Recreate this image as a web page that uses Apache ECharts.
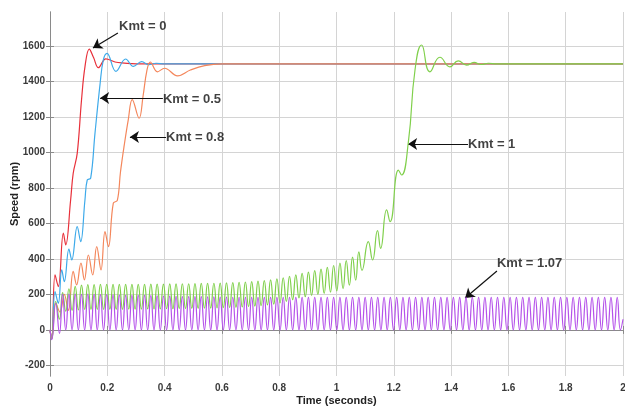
<!DOCTYPE html>
<html><head><meta charset="utf-8">
<script src="https://cdn.jsdelivr.net/npm/echarts@6/dist/echarts.min.js"></script>
<style>html,body{margin:0;padding:0;background:#fff}#c{width:625px;height:407px}</style>
</head><body><div id="c"></div>
<script>
const yTicks = [-200,0,200,400,600,800,1000,1200,1400,1600];
const xTicks = [0,0.2,0.4,0.6,0.8,1,1.2,1.4,1.6,1.8,2];

const kmt0 = [[0,0],[0.006,-50],[0.0175,310],[0.029,244],[0.0466,545],[0.055,479],[0.072,732],[0.081,883],[0.095,995],[0.11,1296],[0.122,1483],[0.137,1583],[0.152,1535],[0.169,1478],[0.195,1528],[0.227,1510],[0.26,1504],[0.3,1500],[2,1500]];

const kmt05 = [[0,0],[0.006,-50],[0.0175,216],[0.029,150],[0.041,338],[0.05,272],[0.066,455],[0.076,394],[0.095,582],[0.107,497],[0.122,732],[0.13,845],[0.142,855],[0.157,1108],[0.175,1390],[0.186,1521],[0.199,1559],[0.23,1457],[0.264,1527],[0.291,1485],[0.32,1512],[0.345,1495],[0.37,1503],[0.4,1500],[2,1500]];

const kmt08 = [[0,0],[0.006,-50],[0.02,150],[0.035,100],[0.05,200],[0.064,110],[0.081,330],[0.093,254],[0.108,376],[0.12,282],[0.134,422],[0.149,310],[0.163,469],[0.178,338],[0.192,554],[0.204,469],[0.221,714],[0.235,730],[0.246,890],[0.259,1040],[0.273,1183],[0.287,1298],[0.311,1193],[0.325,1320],[0.338,1460],[0.35,1510],[0.375,1455],[0.4,1475],[0.445,1432],[0.49,1465],[0.54,1490],[0.6,1500],[2,1500]];

const kmt1 = [[0,0],[0.006,-50],[0.02,160],[0.033,60],
[0.044,210],[0.055,105],[0.066,232],[0.077,110],[0.088,245],[0.099,113],[0.110,252],[0.121,115],[0.132,255],[0.143,115],
[0.154,255],[0.165,115],[0.176,256],[0.187,115],[0.198,256],[0.209,116],[0.220,256],[0.231,116],[0.242,256],[0.253,116],
[0.264,256],[0.275,117],[0.286,257],[0.297,117],[0.308,257],[0.319,117],[0.330,257],[0.341,118],[0.352,258],[0.363,118],
[0.374,258],[0.385,118],[0.396,258],[0.407,119],[0.418,259],[0.429,119],[0.440,259],[0.451,120],[0.462,260],[0.473,120],
[0.484,260],[0.495,121],[0.506,261],[0.517,121],[0.528,262],[0.539,122],[0.550,262],[0.561,123],[0.572,263],[0.583,124],
[0.594,264],[0.605,125],[0.616,265],[0.627,126],[0.638,266],[0.649,127],[0.660,268],[0.671,129],[0.682,270],[0.693,131],
[0.704,272],[0.715,134],[0.726,275],[0.737,137],[0.748,278],[0.759,141],[0.770,282],[0.781,145],[0.792,287],[0.803,152],
[0.814,294],[0.825,160],[0.836,302],[0.847,170],[0.858,310],[0.869,180],[0.880,318],[0.891,187],[0.902,326],[0.913,194],
[0.924,334],[0.935,200],[0.946,342],[0.957,206],[0.968,352],[0.979,213],[0.990,363],[1.001,220],[1.012,376],[1.023,232],
[1.034,390],[1.045,252],[1.056,410],[1.067,280],[1.078,440],[1.089,335],
[1.111,497],[1.126,394],[1.143,559],[1.154,460],[1.175,676],[1.187,610],[1.216,901],[1.227,873],[1.251,1061],[1.274,1465],[1.297,1606],[1.326,1455],[1.361,1537],[1.396,1483],[1.425,1517],[1.454,1492],[1.48,1508],[1.505,1496],[1.53,1503],[1.56,1499],[1.6,1500],[2.0,1500]];

const kmt107 = [[0,0],[0.006,-55],[0.02,150],[0.033,-20],
[0.044,200],[0.055,0],[0.066,202],[0.077,0],[0.088,201],[0.099,0],[0.110,200],[0.121,0],[0.132,201],[0.143,0],
[0.154,200],[0.165,0],[0.176,199],[0.187,0],[0.198,199],[0.209,0],[0.220,197],[0.231,0],[0.242,196],[0.253,0],
[0.264,195],[0.275,0],[0.286,195],[0.297,0],[0.308,194],[0.319,0],[0.330,194],[0.341,0],[0.352,193],[0.363,0],
[0.374,192],[0.385,0],[0.396,191],[0.407,0],[0.418,190],[0.429,0],[0.440,189],[0.451,0],[0.462,188],[0.473,0],
[0.484,188],[0.495,0],[0.506,187],[0.517,0],[0.528,187],[0.539,0],[0.550,186],[0.561,0],[0.572,186],[0.583,0],
[0.594,185],[0.605,0],[0.616,185],[0.627,0],[0.638,184],[0.649,0],[0.660,184],[0.671,0],[0.682,184],[0.693,0],
[0.704,183],[0.715,0],[0.726,183],[0.737,0],[0.748,183],[0.759,0],[0.770,183],[0.781,0],[0.792,183],[0.803,0],
[0.814,183],[0.825,0],[0.836,183],[0.847,0],[0.858,183],[0.869,0],[0.880,183],[0.891,0],[0.902,183],[0.913,0],
[0.924,183],[0.935,0],[0.946,183],[0.957,0],[0.968,183],[0.979,0],[0.990,183],[1.001,0],[1.012,183],[1.023,0],
[1.034,183],[1.045,0],[1.056,183],[1.067,0],[1.078,183],[1.089,0],[1.100,183],[1.111,0],[1.122,183],[1.133,0],
[1.144,183],[1.155,0],[1.166,183],[1.177,0],[1.188,183],[1.199,0],[1.210,183],[1.221,0],[1.232,183],[1.243,0],
[1.254,183],[1.265,0],[1.276,183],[1.287,0],[1.298,183],[1.309,0],[1.320,183],[1.331,0],[1.342,183],[1.353,0],
[1.364,183],[1.375,0],[1.386,183],[1.397,0],[1.408,183],[1.419,0],[1.430,183],[1.441,0],[1.452,183],[1.463,0],
[1.474,183],[1.485,0],[1.496,183],[1.507,0],[1.518,183],[1.529,0],[1.540,183],[1.551,0],[1.562,183],[1.573,0],
[1.584,183],[1.595,0],[1.606,183],[1.617,0],[1.628,183],[1.639,0],[1.650,183],[1.661,0],[1.672,183],[1.683,0],
[1.694,183],[1.705,0],[1.716,183],[1.727,0],[1.738,183],[1.749,0],[1.760,183],[1.771,0],[1.782,183],[1.793,0],
[1.804,183],[1.815,0],[1.826,183],[1.837,0],[1.848,183],[1.859,0],[1.870,183],[1.881,0],[1.892,183],[1.903,0],
[1.914,183],[1.925,0],[1.936,183],[1.947,0],[1.958,183],[1.969,0],[1.980,183],[1.991,0],[2.0,60]];

const annoLabels = ['Kmt = 0','Kmt = 0.5','Kmt = 0.8','Kmt = 1','Kmt = 1.07'];
const annoText = [[0.241,1713],[0.394,1301],[0.405,1087],[1.459,1048],[1.560,377]];
const annoTail = [[0.237,1673],[0.394,1307],[0.405,1087],[1.459,1048],[1.560,332]];
const annoTip = [[0.150,1589],[0.175,1307],[0.279,1087],[1.250,1048],[1.449,180]];

const boxColor = '#8a8a8a';
const gridColor = '#d4d4d4';
const labelStyle = {fontFamily:'Liberation Sans', fontWeight:'bold', fontSize:10, color:'#3a3a3a'};

function line(name, data, color, smooth, z){
  return {name, type:'line', data, showSymbol:false, symbol:'none', smooth,
    lineStyle:{color, width:1.2, opacity:1}, itemStyle:{color}, animation:false, z:z,
    emphasis:{disabled:true}, sampling:null, large:false, progressive:0};
}

const chart = echarts.init(document.getElementById('c'), null, {renderer:'canvas'});
chart.setOption({
  animation:false,
  backgroundColor:'#fff',
  grid:{left:50, right:2, top:12, bottom:31, containLabel:false, outerBoundsMode:'none'},
  xAxis:[{
    type:'value', min:0, max:2, interval:0.2,
    name:'Time (seconds)', nameLocation:'middle', nameGap:19, nameMoveOverlap:false,
    nameTextStyle:{fontFamily:'Liberation Sans', fontWeight:'bold', fontSize:11, color:'#222'},
    axisLine:{show:true, lineStyle:{color:boxColor}},
    axisTick:{show:true, inside:true, length:4, lineStyle:{color:boxColor}},
    axisLabel:Object.assign({margin:7, formatter:v=>String(v)}, labelStyle),
    splitLine:{show:true, lineStyle:{color:gridColor, width:1}}
  },{
    type:'value', position:'top', min:0, max:2, interval:0.2,
    axisLine:{show:true, lineStyle:{color:boxColor}},
    axisTick:{show:true, inside:true, length:4, lineStyle:{color:boxColor}},
    axisLabel:{show:false}, splitLine:{show:false}
  }],
  yAxis:[{
    type:'value', min:-260, max:1792,
    name:'Speed (rpm)', nameLocation:'middle', nameGap:30, nameMoveOverlap:false,
    nameTextStyle:{fontFamily:'Liberation Sans', fontWeight:'bold', fontSize:11, color:'#222'},
    axisLine:{show:true, lineStyle:{color:boxColor}},
    axisTick:{show:true, inside:true, length:4, lineStyle:{color:boxColor}, customValues:yTicks},
    axisLabel:Object.assign({margin:5, customValues:yTicks, formatter:v=>String(v)}, labelStyle),
    splitLine:{show:true, lineStyle:{color:gridColor, width:1}}
  },{
    type:'value', position:'right', min:-260, max:1792,
    axisLine:{show:true, lineStyle:{color:boxColor}},
    axisTick:{show:true, inside:true, length:4, lineStyle:{color:boxColor}, customValues:yTicks},
    axisLabel:{show:false, customValues:yTicks}, splitLine:{show:false}
  }],
  series:[
    line('Kmt = 0', kmt0, '#e8303a', 0.4, 2),
    line('Kmt = 0.5', kmt05, '#3eaaea', 0.4, 3),
    line('Kmt = 0.8', kmt08, '#f4875c', 0.4, 4),
    line('Kmt = 1', kmt1, '#80d04c', 0.5, 5),
    line('Kmt = 1.07', kmt107, '#b552ea', 0.5, 6),
    {
      type:'scatter', symbolSize:0, z:8, silent:true,
      data: annoText.map((p,i)=>({value:p, name:annoLabels[i]})),
      label:{show:true, position:'right', distance:0, formatter:'{b}',
        fontFamily:'Liberation Sans', fontWeight:'bold', fontSize:13, color:'#111'},
      markLine:{
        silent:true, symbol:['none','arrow'], symbolSize:9,
        label:{show:false},
        lineStyle:{color:'#111', width:1.2, type:'solid'},
        emphasis:{disabled:true},
        data: annoTail.map((p,i)=>[{coord:p, symbol:'none'},{coord:annoTip[i], symbol:'arrow', symbolSize:9}])
      }
    }
  ]
});
</script></body></html>
